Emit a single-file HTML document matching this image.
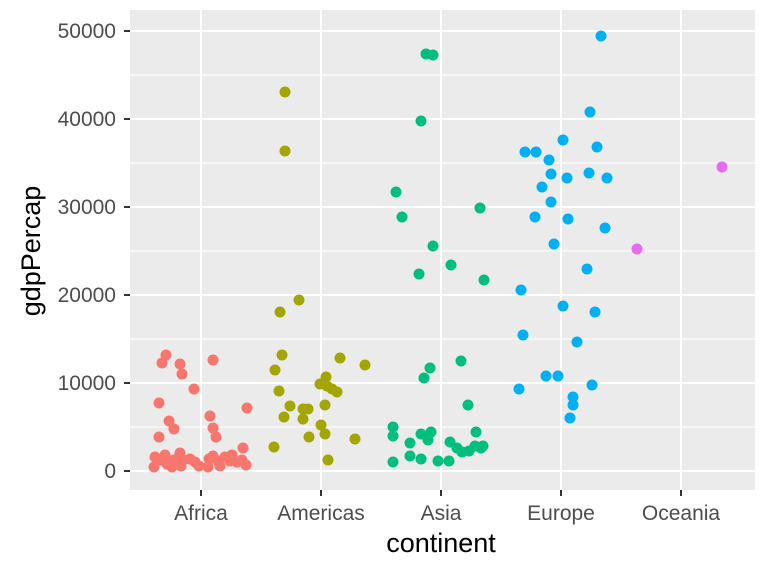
<!DOCTYPE html>
<html><head><meta charset="utf-8"><style>body{margin:0;background:#fff}svg{display:block}text{font-family:"Liberation Sans",sans-serif}</style></head><body>
<svg width="768" height="576" viewBox="0 0 768 576" xmlns="http://www.w3.org/2000/svg">
<rect x="130" y="10" width="625" height="480" fill="#EBEBEB"/>
<g stroke="#fff" stroke-width="1">
<line x1="130" x2="755" y1="427" y2="427"/><line x1="130" x2="755" y1="339" y2="339"/><line x1="130" x2="755" y1="251" y2="251"/><line x1="130" x2="755" y1="163" y2="163"/><line x1="130" x2="755" y1="75" y2="75"/>
</g>
<g stroke="#fff" stroke-width="2">
<line x1="130" x2="755" y1="471" y2="471"/><line x1="130" x2="755" y1="383" y2="383"/><line x1="130" x2="755" y1="295" y2="295"/><line x1="130" x2="755" y1="207" y2="207"/><line x1="130" x2="755" y1="119" y2="119"/><line x1="130" x2="755" y1="31" y2="31"/>
<line x1="201" x2="201" y1="10" y2="490"/><line x1="321" x2="321" y1="10" y2="490"/><line x1="441" x2="441" y1="10" y2="490"/><line x1="561" x2="561" y1="10" y2="490"/><line x1="681" x2="681" y1="10" y2="490"/>
</g>
<g fill="#F8766D">
<circle cx="166" cy="355" r="5.5"/><circle cx="162" cy="363" r="5.5"/><circle cx="180" cy="364" r="5.5"/><circle cx="182" cy="374" r="5.5"/><circle cx="194" cy="389" r="5.5"/><circle cx="213" cy="360" r="5.5"/><circle cx="159" cy="403" r="5.5"/><circle cx="247" cy="408" r="5.5"/><circle cx="210" cy="416" r="5.5"/><circle cx="169" cy="421" r="5.5"/><circle cx="174" cy="429" r="5.5"/><circle cx="159" cy="437" r="5.5"/><circle cx="213" cy="428" r="5.5"/><circle cx="216" cy="437" r="5.5"/><circle cx="243" cy="448" r="5.5"/>
<circle cx="155" cy="457" r="5.5"/><circle cx="154" cy="467" r="5.5"/><circle cx="165" cy="455" r="5.5"/><circle cx="167" cy="464" r="5.5"/><circle cx="172" cy="467" r="5.5"/><circle cx="180" cy="453" r="5.5"/><circle cx="183" cy="460" r="5.5"/><circle cx="181" cy="466" r="5.5"/><circle cx="190" cy="459" r="5.5"/><circle cx="195" cy="462" r="5.5"/><circle cx="199" cy="466" r="5.5"/><circle cx="209" cy="459" r="5.5"/><circle cx="213" cy="456" r="5.5"/><circle cx="220" cy="466" r="5.5"/><circle cx="225" cy="457" r="5.5"/><circle cx="230" cy="461" r="5.5"/><circle cx="232" cy="455" r="5.5"/><circle cx="237" cy="462" r="5.5"/><circle cx="242" cy="460" r="5.5"/><circle cx="246" cy="465" r="5.5"/><circle cx="218" cy="461" r="5.5"/><circle cx="208" cy="467" r="5.5"/><circle cx="174" cy="460" r="5.5"/><circle cx="160" cy="460" r="5.5"/>
</g>
<g fill="#A3A500">
<circle cx="285" cy="92" r="5.5"/><circle cx="285" cy="151" r="5.5"/><circle cx="299" cy="300" r="5.5"/><circle cx="280" cy="312" r="5.5"/><circle cx="282" cy="355" r="5.5"/><circle cx="275" cy="370" r="5.5"/><circle cx="340" cy="358" r="5.5"/><circle cx="365" cy="365" r="5.5"/><circle cx="326" cy="377" r="5.5"/><circle cx="320" cy="384" r="5.5"/><circle cx="327" cy="386" r="5.5"/><circle cx="332" cy="389" r="5.5"/><circle cx="337" cy="392" r="5.5"/><circle cx="279" cy="391" r="5.5"/><circle cx="290" cy="406" r="5.5"/><circle cx="284" cy="417" r="5.5"/><circle cx="303" cy="409" r="5.5"/><circle cx="308" cy="409" r="5.5"/><circle cx="303" cy="419" r="5.5"/><circle cx="325" cy="405" r="5.5"/><circle cx="321" cy="425" r="5.5"/><circle cx="325" cy="434" r="5.5"/><circle cx="355" cy="439" r="5.5"/><circle cx="274" cy="447" r="5.5"/><circle cx="328" cy="460" r="5.5"/><circle cx="309" cy="437" r="5.5"/>
</g>
<g fill="#00BF7D">
<circle cx="426" cy="54" r="5.5"/><circle cx="433" cy="55" r="5.5"/><circle cx="421" cy="121" r="5.5"/><circle cx="396" cy="192" r="5.5"/><circle cx="402" cy="217" r="5.5"/><circle cx="480" cy="208" r="5.5"/><circle cx="433" cy="246" r="5.5"/><circle cx="451" cy="265" r="5.5"/><circle cx="419" cy="274" r="5.5"/><circle cx="484" cy="280" r="5.5"/><circle cx="461" cy="361" r="5.5"/><circle cx="430" cy="368" r="5.5"/><circle cx="424" cy="378" r="5.5"/><circle cx="468" cy="405" r="5.5"/>
<circle cx="393" cy="427" r="5.5"/><circle cx="393" cy="436" r="5.5"/><circle cx="410" cy="443" r="5.5"/><circle cx="421" cy="434" r="5.5"/><circle cx="431" cy="432" r="5.5"/><circle cx="428" cy="440" r="5.5"/><circle cx="410" cy="456" r="5.5"/><circle cx="421" cy="459" r="5.5"/><circle cx="393" cy="462" r="5.5"/><circle cx="438" cy="461" r="5.5"/><circle cx="449" cy="461" r="5.5"/><circle cx="450" cy="442" r="5.5"/><circle cx="457" cy="448" r="5.5"/><circle cx="462" cy="452" r="5.5"/><circle cx="469" cy="451" r="5.5"/><circle cx="475" cy="446" r="5.5"/><circle cx="476" cy="432" r="5.5"/><circle cx="481" cy="448" r="5.5"/><circle cx="483" cy="446" r="5.5"/>
</g>
<g fill="#00B0F6">
<circle cx="601" cy="36" r="5.5"/><circle cx="590" cy="112" r="5.5"/><circle cx="563" cy="140" r="5.5"/><circle cx="597" cy="147" r="5.5"/><circle cx="525" cy="152" r="5.5"/><circle cx="536" cy="152" r="5.5"/><circle cx="549" cy="160" r="5.5"/><circle cx="551" cy="174" r="5.5"/><circle cx="567" cy="178" r="5.5"/><circle cx="589" cy="173" r="5.5"/><circle cx="607" cy="178" r="5.5"/><circle cx="542" cy="187" r="5.5"/><circle cx="551" cy="202" r="5.5"/><circle cx="535" cy="217" r="5.5"/><circle cx="568" cy="219" r="5.5"/><circle cx="605" cy="228" r="5.5"/><circle cx="554" cy="244" r="5.5"/><circle cx="587" cy="269" r="5.5"/><circle cx="521" cy="290" r="5.5"/><circle cx="563" cy="306" r="5.5"/><circle cx="595" cy="312" r="5.5"/><circle cx="523" cy="335" r="5.5"/><circle cx="577" cy="342" r="5.5"/><circle cx="558" cy="376" r="5.5"/><circle cx="546" cy="376" r="5.5"/><circle cx="519" cy="389" r="5.5"/><circle cx="592" cy="385" r="5.5"/><circle cx="573" cy="397" r="5.5"/><circle cx="573" cy="405" r="5.5"/><circle cx="570" cy="418" r="5.5"/>
</g>
<g fill="#E76BF3"><circle cx="722" cy="167" r="5.5"/><circle cx="637" cy="249" r="5.5"/></g>
<g stroke="#333" stroke-width="2">
<line x1="124" x2="130" y1="471" y2="471"/><line x1="124" x2="130" y1="383" y2="383"/><line x1="124" x2="130" y1="295" y2="295"/><line x1="124" x2="130" y1="207" y2="207"/><line x1="124" x2="130" y1="119" y2="119"/><line x1="124" x2="130" y1="31" y2="31"/>
<line x1="201" x2="201" y1="490" y2="496"/><line x1="321" x2="321" y1="490" y2="496"/><line x1="441" x2="441" y1="490" y2="496"/><line x1="561" x2="561" y1="490" y2="496"/><line x1="681" x2="681" y1="490" y2="496"/>
</g>
<g fill="#4D4D4D" font-size="21" text-anchor="end">
<text x="116" y="478">0</text><text x="116" y="390">10000</text><text x="116" y="302">20000</text><text x="116" y="214">30000</text><text x="116" y="126">40000</text><text x="116" y="38">50000</text>
</g>
<g fill="#4D4D4D" font-size="21" text-anchor="middle">
<text x="201" y="520">Africa</text><text x="321" y="520">Americas</text><text x="441" y="520">Asia</text><text x="561" y="520">Europe</text><text x="681" y="520">Oceania</text>
</g>
<text x="441" y="552" font-size="27" text-anchor="middle" fill="#000">continent</text>
<text transform="translate(40,251) rotate(-90)" font-size="27" text-anchor="middle" fill="#000">gdpPercap</text>
</svg>
</body></html>
